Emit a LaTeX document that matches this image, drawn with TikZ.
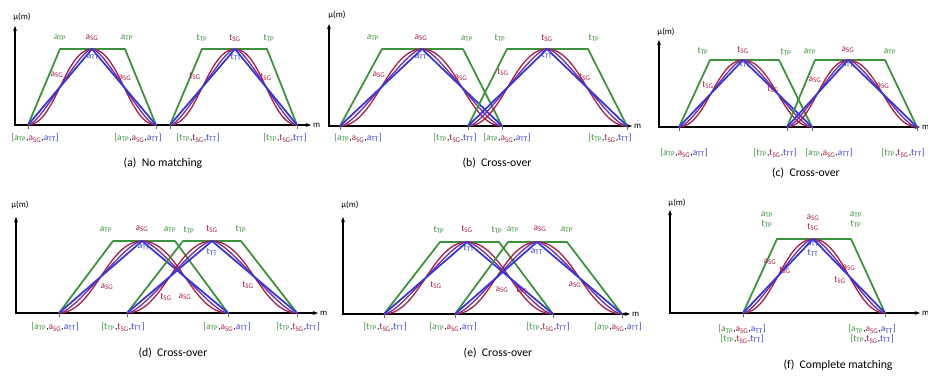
\documentclass[tikz,border=0pt]{standalone}
\usepackage{fontspec}
\setmainfont{Carlito}
\usetikzlibrary{arrows.meta}

\definecolor{tpc}{RGB}{60,145,60}
\definecolor{sgc}{RGB}{165,30,70}
\definecolor{ttc}{RGB}{55,55,215}
\definecolor{ppc}{RGB}{115,45,150}

\newcommand{\fz}[3]{\textcolor{#1}{#2\textsubscript{#3}}}
\newcommand{\fTP}[1]{\fz{tpc}{#1}{TP}}
\newcommand{\fSG}[1]{\fz{sgc}{#1}{SG}}
\newcommand{\fTT}[1]{\fz{ttc}{#1}{TT}}
\newcommand{\brk}[1]{\textcolor{tpc}{[}\fTP{#1},\fSG{#1},\fTT{#1}\textcolor{ttc}{]}}

% L, TL, P, TR, R, base, top
\newcommand{\fuzzy}[7]{%
  \draw[tpline] (#1,#6) -- (#2,#7) -- (#4,#7) -- (#5,#6);
  \draw[sgline] (#1,#6) .. controls ({#1+0.42*(#3-#1)},#6) and ({#3-0.42*(#3-#1)},#7) .. (#3,#7)
    .. controls ({#3+0.42*(#5-#3)},#7) and ({#5-0.42*(#5-#3)},#6) .. (#5,#6);
  \draw[ppline] (#1,#6) .. controls ({#1+0.2*(#3-#1)},#6) and ({#3-0.2*(#3-#1)},#7) .. (#3,#7)
    .. controls ({#3+0.2*(#5-#3)},#7) and ({#5-0.2*(#5-#3)},#6) .. (#5,#6);
  \draw[ttline] (#1,#6) -- (#3,#7) -- (#5,#6);
}
% x0, y0, xend, ytop
\newcommand{\axes}[4]{%
  \draw[axis] (#1,#4) -- (#1,#2) -- (#3,#2);
}

\tikzset{
  axis/.style={line width=2.2pt,{Stealth[length=4.5pt]}-{Stealth[length=4.5pt]}},
  tpline/.style={tpc,line width=1.5pt,line join=round},
  ttline/.style={ttc,line width=1.5pt,line join=round},
  sgline/.style={sgc,line width=1.1pt},
  ppline/.style={ppc,line width=1.1pt},
  tick/.style={black!60,line width=0.4pt},
  lab/.style={inner sep=0pt,font=\fontsize{8}{8.5}\selectfont,align=center},
  axlab/.style={inner sep=0pt,font=\fontsize{7.5}{8}\selectfont},
  capt/.style={inner sep=0pt,font=\fontsize{10}{11}\selectfont}
}

\begin{document}
\begin{tikzpicture}[x=0.03cm,y=-0.03cm]
  \useasboundingbox (0,0) rectangle (928,383);

  % (a) no matching
  \axes{15}{125}{311}{26}
  \node[axlab] (a-mu) at (22,17) {μ(m)};
  \node[axlab,anchor=west] (a-m) at (313,125) {m};
  \fuzzy{28}{60}{92}{125}{156}{125}{49}
  \fuzzy{170}{202}{235}{267}{297}{125}{49}
  \foreach \x in {28,156,170,297} \draw[tick] (\x,125) -- ++(0,4);
  \node[lab] (a1) at (60,38) {\fTP{a}};
  \node[lab] (a2) at (92,38) {\fSG{a}};
  \node[lab] (a3) at (127,38) {\fTP{a}};
  \node[lab] (a4) at (93,57) {\fTT{a}};
  \node[lab] (a5) at (57,75) {\fSG{a}};
  \node[lab] (a6) at (125,78) {\fSG{a}};
  \node[lab] (a7) at (202,38) {\fTP{t}};
  \node[lab] (a8) at (235,38) {\fSG{t}};
  \node[lab] (a9) at (269,38) {\fTP{t}};
  \node[lab] (a10) at (236,57) {\fTT{t}};
  \node[lab] (a11) at (195,76) {\fSG{t}};
  \node[lab] (a12) at (266,77) {\fSG{t}};
  \node[lab] (a13) at (35,138) {\brk{a}};
  \node[lab] (a14) at (138,138) {\brk{a}};
  \node[lab] (a15) at (198,138) {\brk{t}};
  \node[lab] (a16) at (285,138) {\brk{t}};
  \node[capt] (a-cap) at (163,163) {(a)\ \ No matching};

  % (b) cross-over
  \axes{329}{126}{632}{24}
  \node[axlab] (b-mu) at (337,15) {μ(m)};
  \node[axlab,anchor=west] (b-m) at (634,126) {m};
  \fuzzy{340}{382}{422}{463}{502}{126}{49}
  \fuzzy{468}{507}{547}{588}{627}{126}{49}
  \foreach \x in {340,468,502,627} \draw[tick] (\x,126) -- ++(0,4);
  \node[lab] (b1) at (373,38) {\fTP{a}};
  \node[lab] (b2) at (421,38) {\fSG{a}};
  \node[lab] (b3) at (467,39) {\fTP{a}};
  \node[lab] (b4) at (421,57) {\fTT{a}};
  \node[lab] (b5) at (379,75) {\fSG{a}};
  \node[lab] (b6) at (461,78) {\fSG{a}};
  \node[lab] (b7) at (500,38) {\fTP{t}};
  \node[lab] (b8) at (547,38) {\fSG{t}};
  \node[lab] (b9) at (594,38) {\fTP{t}};
  \node[lab] (b10) at (547,55) {\fTT{t}};
  \node[lab] (b11) at (503,72) {\fSG{t}};
  \node[lab] (b12) at (585,77) {\fSG{t}};
  \node[lab] (b13) at (358,138) {\brk{a}};
  \node[lab] (b14) at (455,138) {\brk{t}};
  \node[lab] (b15) at (507,138) {\brk{a}};
  \node[lab] (b16) at (610,138) {\brk{t}};
  \node[capt] (b-cap) at (497,163) {(b)\ \ Cross-over};

  % (c) cross-over
  \axes{659}{127}{920}{40}
  \node[axlab] (c-mu) at (666,32) {μ(m)};
  \node[axlab,anchor=west] (c-m) at (922,127) {m};
  \fuzzy{679}{710}{743}{779}{812}{127}{60}
  \fuzzy{787}{815}{848}{885}{917}{127}{60}
  \foreach \x in {679,787,812,917} \draw[tick] (\x,127) -- ++(0,4);
  \node[lab] (c1) at (703,51) {\fTP{t}};
  \node[lab] (c2) at (743,50) {\fSG{t}};
  \node[lab] (c3) at (786,52) {\fTP{t}};
  \node[lab] (c4) at (745,64) {\fTT{t}};
  \node[lab] (c5) at (708,85) {\fSG{t}};
  \node[lab] (c6) at (773,89) {\fSG{t}};
  \node[lab] (c7) at (810,52) {\fTP{a}};
  \node[lab] (c8) at (848,50) {\fSG{a}};
  \node[lab] (c9) at (890,52) {\fTP{a}};
  \node[lab] (c10) at (848,65) {\fTT{a}};
  \node[lab] (c11) at (815,80) {\fSG{a}};
  \node[lab] (c12) at (883,86) {\fSG{a}};
  \node[lab] (c13) at (684,153) {\brk{a}};
  \node[lab] (c14) at (775,153) {\brk{t}};
  \node[lab] (c15) at (829,153) {\brk{a}};
  \node[lab] (c16) at (903,153) {\brk{t}};
  \node[capt] (c-cap) at (806,173) {(c)\ \ Cross-over};

  % (d) cross-over
  \axes{16}{313}{318}{217}
  \node[axlab] (d-mu) at (20,205) {μ(m)};
  \node[axlab,anchor=west] (d-m) at (320,313) {m};
  \fuzzy{59}{113}{142}{175}{228}{313}{241}
  \fuzzy{127}{183}{212}{241}{297}{313}{241}
  \foreach \x in {59,127,228,297} \draw[tick] (\x,313) -- ++(0,4);
  \node[lab] (d1) at (106,230) {\fTP{a}};
  \node[lab] (d2) at (142,229) {\fSG{a}};
  \node[lab] (d3) at (170,230) {\fTP{a}};
  \node[lab] (d4) at (189,230) {\fTP{t}};
  \node[lab] (d5) at (212,229) {\fSG{t}};
  \node[lab] (d6) at (241,229) {\fTP{t}};
  \node[lab] (d7) at (144,247) {\fTT{a}};
  \node[lab] (d8) at (212,252) {\fTT{t}};
  \node[lab] (d9) at (107,287) {\fSG{a}};
  \node[lab] (d10) at (166,297) {\fSG{t}};
  \node[lab] (d11) at (185,297) {\fSG{a}};
  \node[lab] (d12) at (248,285) {\fSG{t}};
  \node[lab] (d13) at (55,327) {\brk{a}};
  \node[lab] (d14) at (123,327) {\brk{t}};
  \node[lab] (d15) at (227,327) {\brk{a}};
  \node[lab] (d16) at (298,327) {\brk{t}};
  \node[capt] (d-cap) at (173,353) {(d)\ \ Cross-over};

  % (e) cross-over
  \axes{343}{314}{630}{217}
  \node[axlab] (e-mu) at (350,205) {μ(m)};
  \node[axlab,anchor=west] (e-m) at (632,314) {m};
  \fuzzy{384}{440}{467}{499}{553}{314}{242}
  \fuzzy{455}{508}{537}{567}{622}{314}{242}
  \foreach \x in {384,455,553,622} \draw[tick] (\x,314) -- ++(0,4);
  \node[lab] (e1) at (439,230) {\fTP{t}};
  \node[lab] (e2) at (467,229) {\fSG{t}};
  \node[lab] (e3) at (497,230) {\fTP{t}};
  \node[lab] (e4) at (513,230) {\fTP{a}};
  \node[lab] (e5) at (540,229) {\fSG{a}};
  \node[lab] (e6) at (567,230) {\fTP{a}};
  \node[lab] (e7) at (469,248) {\fTT{t}};
  \node[lab] (e8) at (537,252) {\fTT{a}};
  \node[lab] (e9) at (436,285) {\fSG{t}};
  \node[lab] (e10) at (502,290) {\fSG{a}};
  \node[lab] (e11) at (522,290) {\fSG{t}};
  \node[lab] (e12) at (575,285) {\fSG{a}};
  \node[lab] (e13) at (385,327) {\brk{t}};
  \node[lab] (e14) at (453,327) {\brk{a}};
  \node[lab] (e15) at (548,327) {\brk{t}};
  \node[lab] (e16) at (618,327) {\brk{a}};
  \node[capt] (e-cap) at (498,353) {(e)\ \ Cross-over};

  % (f) complete matching
  \axes{670}{313}{920}{210}
  \node[axlab] (f-mu) at (677,203) {μ(m)};
  \node[axlab,anchor=west] (f-m) at (922,313) {m};
  \fuzzy{743}{777}{813}{851}{885}{313}{239}
  \foreach \x in {743,885} \draw[tick] (\x,313) -- ++(0,4);
  \node[lab] (f1) at (767,220) {\fTP{a}\\\fTP{t}};
  \node[lab] (f2) at (813,223) {\fSG{a}\\\fSG{t}};
  \node[lab] (f3) at (856,220) {\fTP{a}\\\fTP{t}};
  \node[lab] (f4) at (813,249) {\fTT{a}\\\fTT{t}};
  \node[lab] (f5) at (770,262) {\fSG{a}};
  \node[lab] (f6) at (785,270) {\fSG{t}};
  \node[lab] (f7) at (849,268) {\fSG{a}};
  \node[lab] (f8) at (840,280) {\fSG{t}};
  \node[lab] (f9) at (742,334) {\brk{a}\\\brk{t}};
  \node[lab] (f10) at (872,334) {\brk{a}\\\brk{t}};
  \node[capt] (f-cap) at (838,365) {(f)\ \ Complete matching};
\end{tikzpicture}
\end{document}
